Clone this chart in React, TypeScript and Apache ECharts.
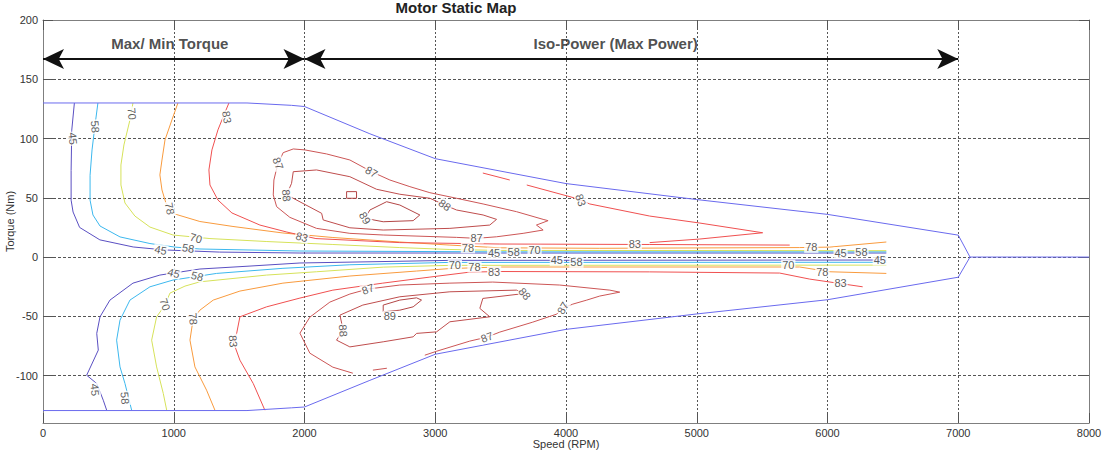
import React, { useEffect, useRef } from "react";
import * as echarts from "echarts";

const FONT = "'Liberation Sans', Arial, Helvetica, sans-serif";

const xTicks = [0, 1000, 2000, 3000, 4000, 5000, 6000, 7000, 8000];
const yTicks = [-100, -50, 0, 50, 100, 150, 200];

const boundaryUpper = [[0, 130], [1560, 130], [1900, 128], [2000, 127], [2500, 104], [3000, 83], [4000, 62], [5000, 48.5], [6000, 36], [7000, 18.5], [7090, 0], [8000, 0]];
const boundaryLower = [[0, -129.5], [1560, -129.5], [1900, -127.2], [2000, -126.5], [2500, -104], [3000, -82], [4000, -61], [5000, -48], [6000, -36], [7000, -17], [7090, 0]];

const c45Upper = [[240, 130], [220, 107], [215, 73], [215, 48], [230, 38], [280, 25], [435, 14.5], [690, 8.5], [930, 6], [1350, 4.2], [1965, 3.4], [6450, 3.4]];
const c58Upper = [[420, 130], [398, 111.5], [375, 90.4], [360, 69], [360, 48], [382, 35.5], [436, 26.2], [589, 17], [818, 11.4], [1009, 8.4], [1200, 6.8], [1965, 5.1], [3494, 4.4], [6450, 4.4]];
const c70Upper = [[688, 130], [665, 115.7], [619, 94.6], [596, 77.7], [596, 60.8], [627, 45.6], [703, 34.6], [818, 25.3], [994, 18.6], [1277, 15.6], [1712, 13.1], [2217, 10.6], [2729, 8], [3112, 6.4], [3494, 5.6], [6450, 5.4]];
const c78Upper = [[1032, 130], [986, 115.7], [933, 98.8], [910, 81.9], [894, 69.3], [910, 56.6], [940, 45.6], [1009, 36.3], [1200, 30], [1453, 25.8], [1835, 20.3], [2217, 16.5], [2729, 12.7], [3112, 10.1], [3494, 7.8], [4258, 7.4], [5787, 8], [6017, 8.4], [6450, 12.7]];
const c83Upper = [[1422, 130], [1384, 119.9], [1338, 107.3], [1292, 90.4], [1269, 73.5], [1277, 60.8], [1338, 48.1], [1445, 37.2], [1659, 27], [1865, 21.1], [2087, 15.6], [2729, 12.2], [3494, 11], [4640, 10.6], [5711, 10.1]];
const c83UpperDash = [[3364, 70.9], [3570, 65]];
const c83UpperTip = [[3700, 60.8], [4067, 49.8], [4182, 44.8], [4640, 34.6], [5023, 28.7], [5504, 20.5], [5023, 15.2], [4640, 12.2]];
const c87Upper = [[1799, 79], [1837, 88.1], [1914, 91.2], [2003, 90.4], [2169, 87], [2347, 81.9], [2513, 72], [2653, 65], [2806, 59.4], [2959, 54.3], [3163, 49.6], [3366, 44.8], [3621, 38.3], [3825, 31.8], [3863, 30.7], [3774, 27], [3825, 22.8], [3672, 20], [3469, 17.1], [3316, 15.8], [3163, 16.6], [2602, 18.6], [2347, 20], [2092, 24.2], [1888, 33.5], [1787, 42.5], [1761, 52.4], [1766, 65], [1781, 72], [1799, 79]];
const c88Upper = [[1914, 72], [2092, 73.5], [2347, 67.8], [2551, 57.2], [2729, 53], [2959, 49.6], [3073, 43.9], [3163, 39.7], [3366, 35.5], [3469, 31.8], [3417, 27], [3112, 24.2], [2602, 22.8], [2347, 24.7], [2143, 31.3], [2131, 36.9], [1914, 49.6], [1863, 52.4], [1901, 62.2], [1914, 72]];
const c89Upper = [[2500, 39.7], [2628, 46.7], [2729, 43.9], [2882, 35.5], [2831, 30.7], [2602, 29.8], [2462, 32.7], [2500, 39.7]];
const c89UpperSmall = [[2322, 55.2], [2398, 55.2], [2398, 49.6], [2322, 49.6], [2322, 55.2]];

const c45Lower = [[487, -129.2], [461, -120.8], [411, -106.7], [334, -99.7], [423, -78.5], [411, -64.4], [436, -50.4], [512, -36.3], [688, -22], [894, -15.2], [1200, -10.1], [1583, -7.6], [1965, -5], [3112, -2.8], [6450, -2.5]];
const c58Lower = [[678, -129.2], [627, -106.7], [589, -92.7], [563, -70.1], [589, -53.2], [665, -36.3], [818, -25.1], [994, -19.4], [1328, -13.8], [1835, -9.5], [2347, -6.5], [3112, -4.5], [6450, -4.4]];
const c70Lower = [[946, -129.2], [920, -115.1], [869, -92.7], [831, -70.1], [869, -50.4], [933, -40.5], [971, -30.4], [1086, -24.5], [1200, -20.9], [1710, -15.2], [2092, -12.4], [2602, -8.5], [3112, -7], [6450, -6.8]];
const c78Lower = [[1315, -129.2], [1251, -112.3], [1162, -92.7], [1124, -70.1], [1149, -51.8], [1200, -44.8], [1302, -36.3], [1506, -28.7], [1835, -22], [2347, -16], [2857, -11.8], [3112, -9.7], [3494, -8.4], [5787, -8.4], [6017, -12.4], [6450, -13.8]];
const c83Lower = [[1697, -129.2], [1608, -106.7], [1506, -87], [1455, -71.5], [1481, -64.4], [1506, -50.4], [1710, -42], [1965, -34.6], [2217, -27.9], [2599, -22], [2959, -16.9], [3264, -12.7], [3494, -12.2], [4640, -12.5], [5634, -13.5], [5864, -18.6], [6269, -25.1]];
const c87Lower = [[2370, -98], [2217, -92.9], [2041, -81.1], [1965, -64.2], [2041, -50.7], [2194, -38], [2347, -31.2], [2485, -27], [2729, -23.6], [3112, -22], [3440, -21.1], [3952, -23.6], [4335, -27.9], [4411, -29.6], [4258, -32.9], [4159, -36.3], [4052, -39.7], [3975, -43.1], [3930, -48.1], [3746, -54.9], [3494, -63.3], [3394, -67.6], [3264, -70.9], [3012, -79.4], [2920, -82.8]];
const c87LowerDash = [[2523, -95.4], [2630, -93.8]];
const c88Lower = [[2271, -49], [2446, -40.5], [2729, -33.5], [3112, -29.3], [3621, -27.9], [3685, -30.7], [3364, -34.9], [3341, -43.3], [3417, -50.4], [3112, -54.6], [3010, -63.1], [2857, -64.4], [2831, -67.3], [2602, -71.5], [2347, -75.8], [2245, -70.1], [2296, -61.7], [2271, -49]];
const c89Lower = [[2602, -40.5], [2729, -36.3], [2857, -34.4], [2895, -36.3], [2831, -42], [2729, -44.8], [2602, -46.2], [2602, -40.5]];

const levelColors: Record<string, string> = {
  "45": "#5a4fc2",
  "58": "#3cb8ee",
  "70": "#d6e25a",
  "78": "#f99b3e",
  "83": "#f05050",
  "87": "#cc5656",
  "88": "#bf4d4d",
  "89": "#b34646",
};

const contourPieces: [string, number[][]][] = [
  ["45", c45Upper], ["58", c58Upper], ["70", c70Upper], ["78", c78Upper],
  ["83", c83Upper], ["83", c83UpperDash], ["83", c83UpperTip],
  ["87", c87Upper], ["88", c88Upper], ["89", c89Upper], ["89", c89UpperSmall],
  ["45", c45Lower], ["58", c58Lower], ["70", c70Lower], ["78", c78Lower],
  ["83", c83Lower], ["87", c87Lower], ["87", c87LowerDash], ["88", c88Lower], ["89", c89Lower],
];

// [level, speed, torque, rotation]
const contourLabels: [string, number, number, number][] = [
  ["45", 230, 100, -85], ["58", 400, 110, -85], ["70", 680, 121, -85], ["83", 1407, 118, -80],
  ["78", 970, 41, -80], ["70", 1170, 16, -15], ["83", 1980, 17, -15],
  ["45", 900, 6, -10], ["58", 1110, 7.6, -10],
  ["87", 1799, 79, -70], ["87", 2513, 72, -30], ["88", 3073, 44, -35], ["88", 1863, 52, -85],
  ["89", 2462, 33, -60], ["87", 3316, 16, 0], ["83", 4113, 48, -70], ["83", 4526, 11, 0],
  ["78", 3250, 7.8, 0], ["45", 3450, 3.4, 0], ["58", 3600, 4.4, 0], ["70", 3760, 5.6, 0],
  ["78", 5876, 8.2, 0], ["45", 6100, 3.6, 0], ["58", 6260, 4.4, 0],
  ["45", 398, -112, -85], ["58", 627, -119, -85], ["70", 933, -40, -70], ["78", 1149, -52, -85], ["83", 1455, -71, -85],
  ["45", 1000, -13.4, -15], ["58", 1180, -16.2, -15],
  ["70", 3150, -7, 0], ["78", 3300, -8.4, 0], ["83", 3450, -12.2, 0], ["45", 3930, -2.8, 0], ["58", 4080, -4.5, 0],
  ["87", 2485, -27, 20], ["88", 2296, -62, -85], ["89", 2653, -50, 0], ["88", 3685, -31, -50],
  ["87", 3394, -67.6, 20], ["87", 3975, -43, 60],
  ["45", 6400, -2.5, 0], ["70", 5700, -6.8, 0], ["78", 5960, -12.4, 0], ["83", 6100, -21.8, 0],
];

const arrowTorque = 167;
const arrowSpans = [[0, 2000], [2000, 7000]];
const annotations: [number, number, string][] = [
  [970, 180, "Max/ Min Torque"],
  [4380, 180, "Iso-Power (Max Power)"],
];

function buildOption(): any {
  const axisLineStyle = { color: "#7f7f7f", width: 1 };
  const series: any[] = [];

  series.push({
    type: "line", data: boundaryUpper, symbol: "none", lineStyle: { color: "#6a6aee", width: 1 }, z: 3,
  });
  series.push({
    type: "line", data: boundaryLower, symbol: "none", lineStyle: { color: "#6a6aee", width: 1 }, z: 3,
  });

  contourPieces.forEach(([lvl, pts]) => {
    series.push({
      type: "line", data: pts, symbol: "none", z: 2,
      lineStyle: { color: levelColors[lvl], width: 1 },
    });
  });

  series.push({
    type: "scatter", symbolSize: 1, z: 5,
    itemStyle: { color: "rgba(0,0,0,0)" },
    data: contourLabels.map(([lvl, x, y, r]) => ({ name: lvl, value: [x, y], label: { rotate: r } })),
    label: {
      show: true, position: "inside", formatter: "{b}", fontSize: 11, fontFamily: FONT,
      color: "#333", backgroundColor: "#ffffff", padding: [0, 1],
    },
    labelLayout: { hideOverlap: false },
  });

  series.push({
    type: "line", data: [], symbol: "none", z: 6,
    markLine: {
      silent: true, symbol: ["arrow", "arrow"], symbolSize: [15, 21],
      lineStyle: { color: "#111", width: 2, type: "solid" },
      label: { show: false },
      data: arrowSpans.map(([a, b]) => [{ coord: [a, arrowTorque] }, { coord: [b, arrowTorque] }]),
    },
  });

  series.push({
    type: "scatter", symbolSize: 1, z: 6,
    itemStyle: { color: "rgba(0,0,0,0)" },
    data: annotations.map(([x, y, t]) => ({ name: t, value: [x, y] })),
    label: {
      show: true, position: "inside", formatter: "{b}", fontSize: 15, fontWeight: "bold",
      fontFamily: FONT, color: "#222",
    },
  });

  const fmt = (v: number) => String(v);

  return {
    animation: false,
    backgroundColor: "#ffffff",
    textStyle: { fontFamily: FONT },
    title: {
      text: "Motor Static Map", left: 451, top: -5, textAlign: "center",
      textStyle: { fontSize: 15, fontWeight: "bold", color: "#222", fontFamily: FONT },
    },
    grid: { left: 43, right: 13, top: 20, bottom: 27, containLabel: false, outerBoundsMode: "none" },
    xAxis: [
      {
        type: "value", min: 0, max: 8000, interval: 1000, position: "bottom",
        name: "Speed (RPM)", nameLocation: "middle", nameGap: 15, nameMoveOverlap: false,
        nameTextStyle: { fontSize: 11, color: "#333", fontFamily: FONT },
        axisLine: { onZero: false, lineStyle: axisLineStyle },
        axisTick: { inside: true, length: 10, lineStyle: { color: "#555" } },
        axisLabel: { fontSize: 11, color: "#333", margin: 4, fontFamily: FONT, formatter: fmt, customValues: xTicks },
        splitLine: { show: true, lineStyle: { color: "#555", type: [2, 2], width: 1 } },
      },
      {
        type: "value", min: 0, max: 8000, interval: 1000, position: "top",
        axisLine: { onZero: false, lineStyle: axisLineStyle },
        axisTick: { inside: true, length: 10, lineStyle: { color: "#555" } },
        axisLabel: { show: false },
        splitLine: { show: false },
      },
    ],
    yAxis: [
      {
        type: "value", min: -140, max: 200, position: "left",
        name: "Torque (Nm)", nameLocation: "middle", nameGap: 28, nameRotate: 90, nameMoveOverlap: false,
        nameTextStyle: { fontSize: 11, color: "#333", fontFamily: FONT },
        axisLine: { onZero: false, lineStyle: axisLineStyle },
        axisTick: { inside: true, length: 10, lineStyle: { color: "#555" }, customValues: yTicks },
        axisLabel: { fontSize: 11, color: "#333", margin: 5, fontFamily: FONT, formatter: fmt, customValues: yTicks },
        splitLine: { show: true, lineStyle: { color: "#555", type: [3, 2], width: 1 } },
      },
      {
        type: "value", min: -140, max: 200, position: "right",
        axisLine: { onZero: false, lineStyle: axisLineStyle },
        axisTick: { inside: true, length: 10, lineStyle: { color: "#555" }, customValues: yTicks },
        axisLabel: { show: false, customValues: yTicks },
        splitLine: { show: false },
      },
    ],
    series,
  };
}

export default function App() {
  const ref = useRef<HTMLDivElement>(null);
  useEffect(() => {
    if (!ref.current) return;
    const chart = echarts.init(ref.current, null, { renderer: "svg" });
    chart.setOption(buildOption());
    return () => chart.dispose();
  }, []);
  return (
    <div
      ref={ref}
      style={{ position: "absolute", left: 0, top: 0, width: 1102, height: 450, background: "#fff" }}
    />
  );
}
